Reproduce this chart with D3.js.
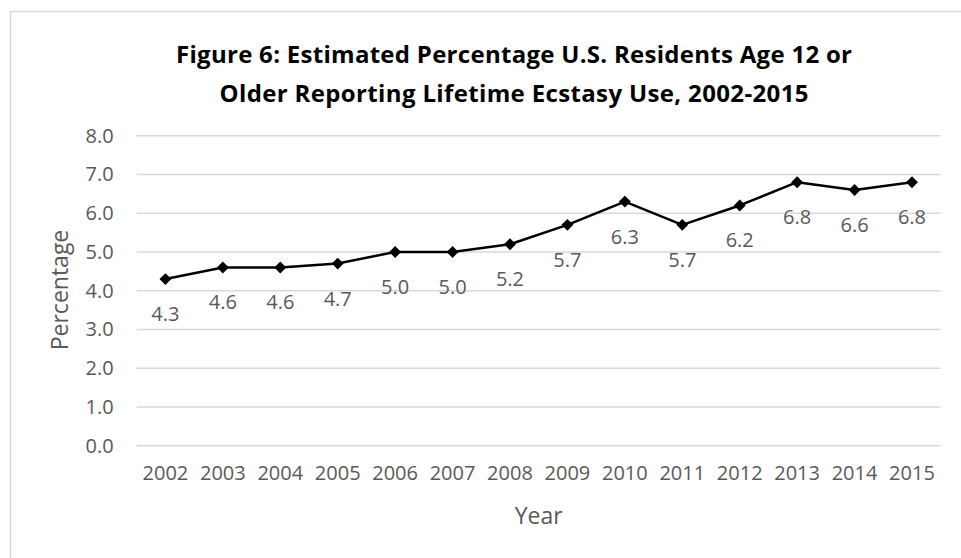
<!DOCTYPE html>
<html>
<head>
<meta charset="utf-8">
<script src="https://cdn.jsdelivr.net/npm/d3@7"></script>
<style>
  html, body { margin: 0; padding: 0; background: #fff; }
  svg { display: block; }
  text { font-family: "Open Sans", Lato, sans-serif; }
</style>
</head>
<body>
<svg id="chart" width="961" height="558"></svg>
<script>
// Lifetime ecstasy use among U.S. residents age 12+, by survey year
const years = ["2002","2003","2004","2005","2006","2007","2008","2009","2010","2011","2012","2013","2014","2015"];
const percentages = [4.3, 4.6, 4.6, 4.7, 5.0, 5.0, 5.2, 5.7, 6.3, 5.7, 6.2, 6.8, 6.6, 6.8];
const yTicks = [0, 1, 2, 3, 4, 5, 6, 7, 8];
const titleLines = [
  "Figure 6: Estimated Percentage U.S. Residents Age 12 or",
  "Older Reporting Lifetime Ecstasy Use, 2002-2015"
];

const svg = d3.select("#chart");
const W = 961, H = 558;
const plot = { left: 136.7, right: 940.7, top: 135.7, bottom: 445.7 };
const textColor = "#595959";
const font = "'Open Sans', Lato, sans-serif";
const tickSize = 20;
const axisTitleSize = 23;

// Outer chart frame
svg.append("rect")
  .attr("x", 10.5).attr("y", 11.5)
  .attr("width", W + 10).attr("height", H + 10)
  .attr("fill", "#fff").attr("stroke", "#d9d9d9").attr("stroke-width", 1.5);

const x = d3.scaleBand().domain(years).range([plot.left, plot.right]);
const y = d3.scaleLinear().domain([0, 8]).range([plot.bottom, plot.top]);

// Horizontal gridlines
svg.append("g").selectAll("line").data(yTicks).join("line")
  .attr("x1", plot.left).attr("x2", plot.right)
  .attr("y1", d => y(d)).attr("y2", d => y(d))
  .attr("stroke", "#d9d9d9").attr("stroke-width", 1.5);

// Y axis labels
const yAxis = d3.axisLeft(y).tickValues(yTicks).tickFormat(d3.format(".1f")).tickSize(0).tickPadding(0);
svg.append("g")
  .attr("transform", `translate(${plot.left - 23},0)`)
  .call(yAxis)
  .call(g => g.select(".domain").remove())
  .call(g => g.selectAll("text")
    .attr("fill", textColor).attr("font-size", tickSize)
    .attr("font-family", font));

// X axis labels
const xAxis = d3.axisBottom(x).tickSize(0).tickPadding(0);
svg.append("g")
  .attr("transform", `translate(0,${plot.bottom + 20})`)
  .call(xAxis)
  .call(g => g.select(".domain").remove())
  .call(g => g.selectAll("text")
    .attr("fill", textColor).attr("font-size", tickSize)
    .attr("font-family", font));

// Axis titles
svg.append("text")
  .attr("x", (plot.left + plot.right) / 2).attr("y", 524)
  .attr("text-anchor", "middle").attr("fill", textColor).attr("font-size", axisTitleSize)
  .text("Year");
svg.append("text")
  .attr("transform", `translate(68,290) rotate(-90)`)
  .attr("text-anchor", "middle").attr("fill", textColor).attr("font-size", axisTitleSize)
  .text("Percentage");

// Title, two centred lines
const titleWidths = [676, 589];
svg.append("g").selectAll("text").data(titleLines).join("text")
  .attr("x", 514).attr("y", (d, i) => 63 + i * 38.7)
  .attr("text-anchor", "middle").attr("font-weight", "bold")
  .attr("font-size", 24).attr("fill", "#000")
  .attr("textLength", (d, i) => titleWidths[i]).attr("lengthAdjust", "spacing")
  .text(d => d);

const cx = d => x(d) + x.bandwidth() / 2;

// Series line
const line = d3.line().x((d, i) => cx(years[i])).y(d => y(d));
svg.append("path")
  .datum(percentages)
  .attr("d", line)
  .attr("fill", "none").attr("stroke", "#000").attr("stroke-width", 2.5)
  .attr("stroke-linejoin", "round");

// Diamond markers
const diamond = d3.symbol().type(d3.symbolDiamond2).size(90);
svg.append("g").selectAll("path").data(percentages).join("path")
  .attr("d", diamond)
  .attr("transform", (d, i) => `translate(${cx(years[i])},${y(d)})`)
  .attr("fill", "#000");

// Value labels below each point
svg.append("g").selectAll("text").data(percentages).join("text")
  .attr("x", (d, i) => cx(years[i]))
  .attr("y", d => y(d) + 42)
  .attr("text-anchor", "middle").attr("fill", textColor).attr("font-size", tickSize)
  .text(d => d3.format(".1f")(d));
</script>
</body>
</html>
